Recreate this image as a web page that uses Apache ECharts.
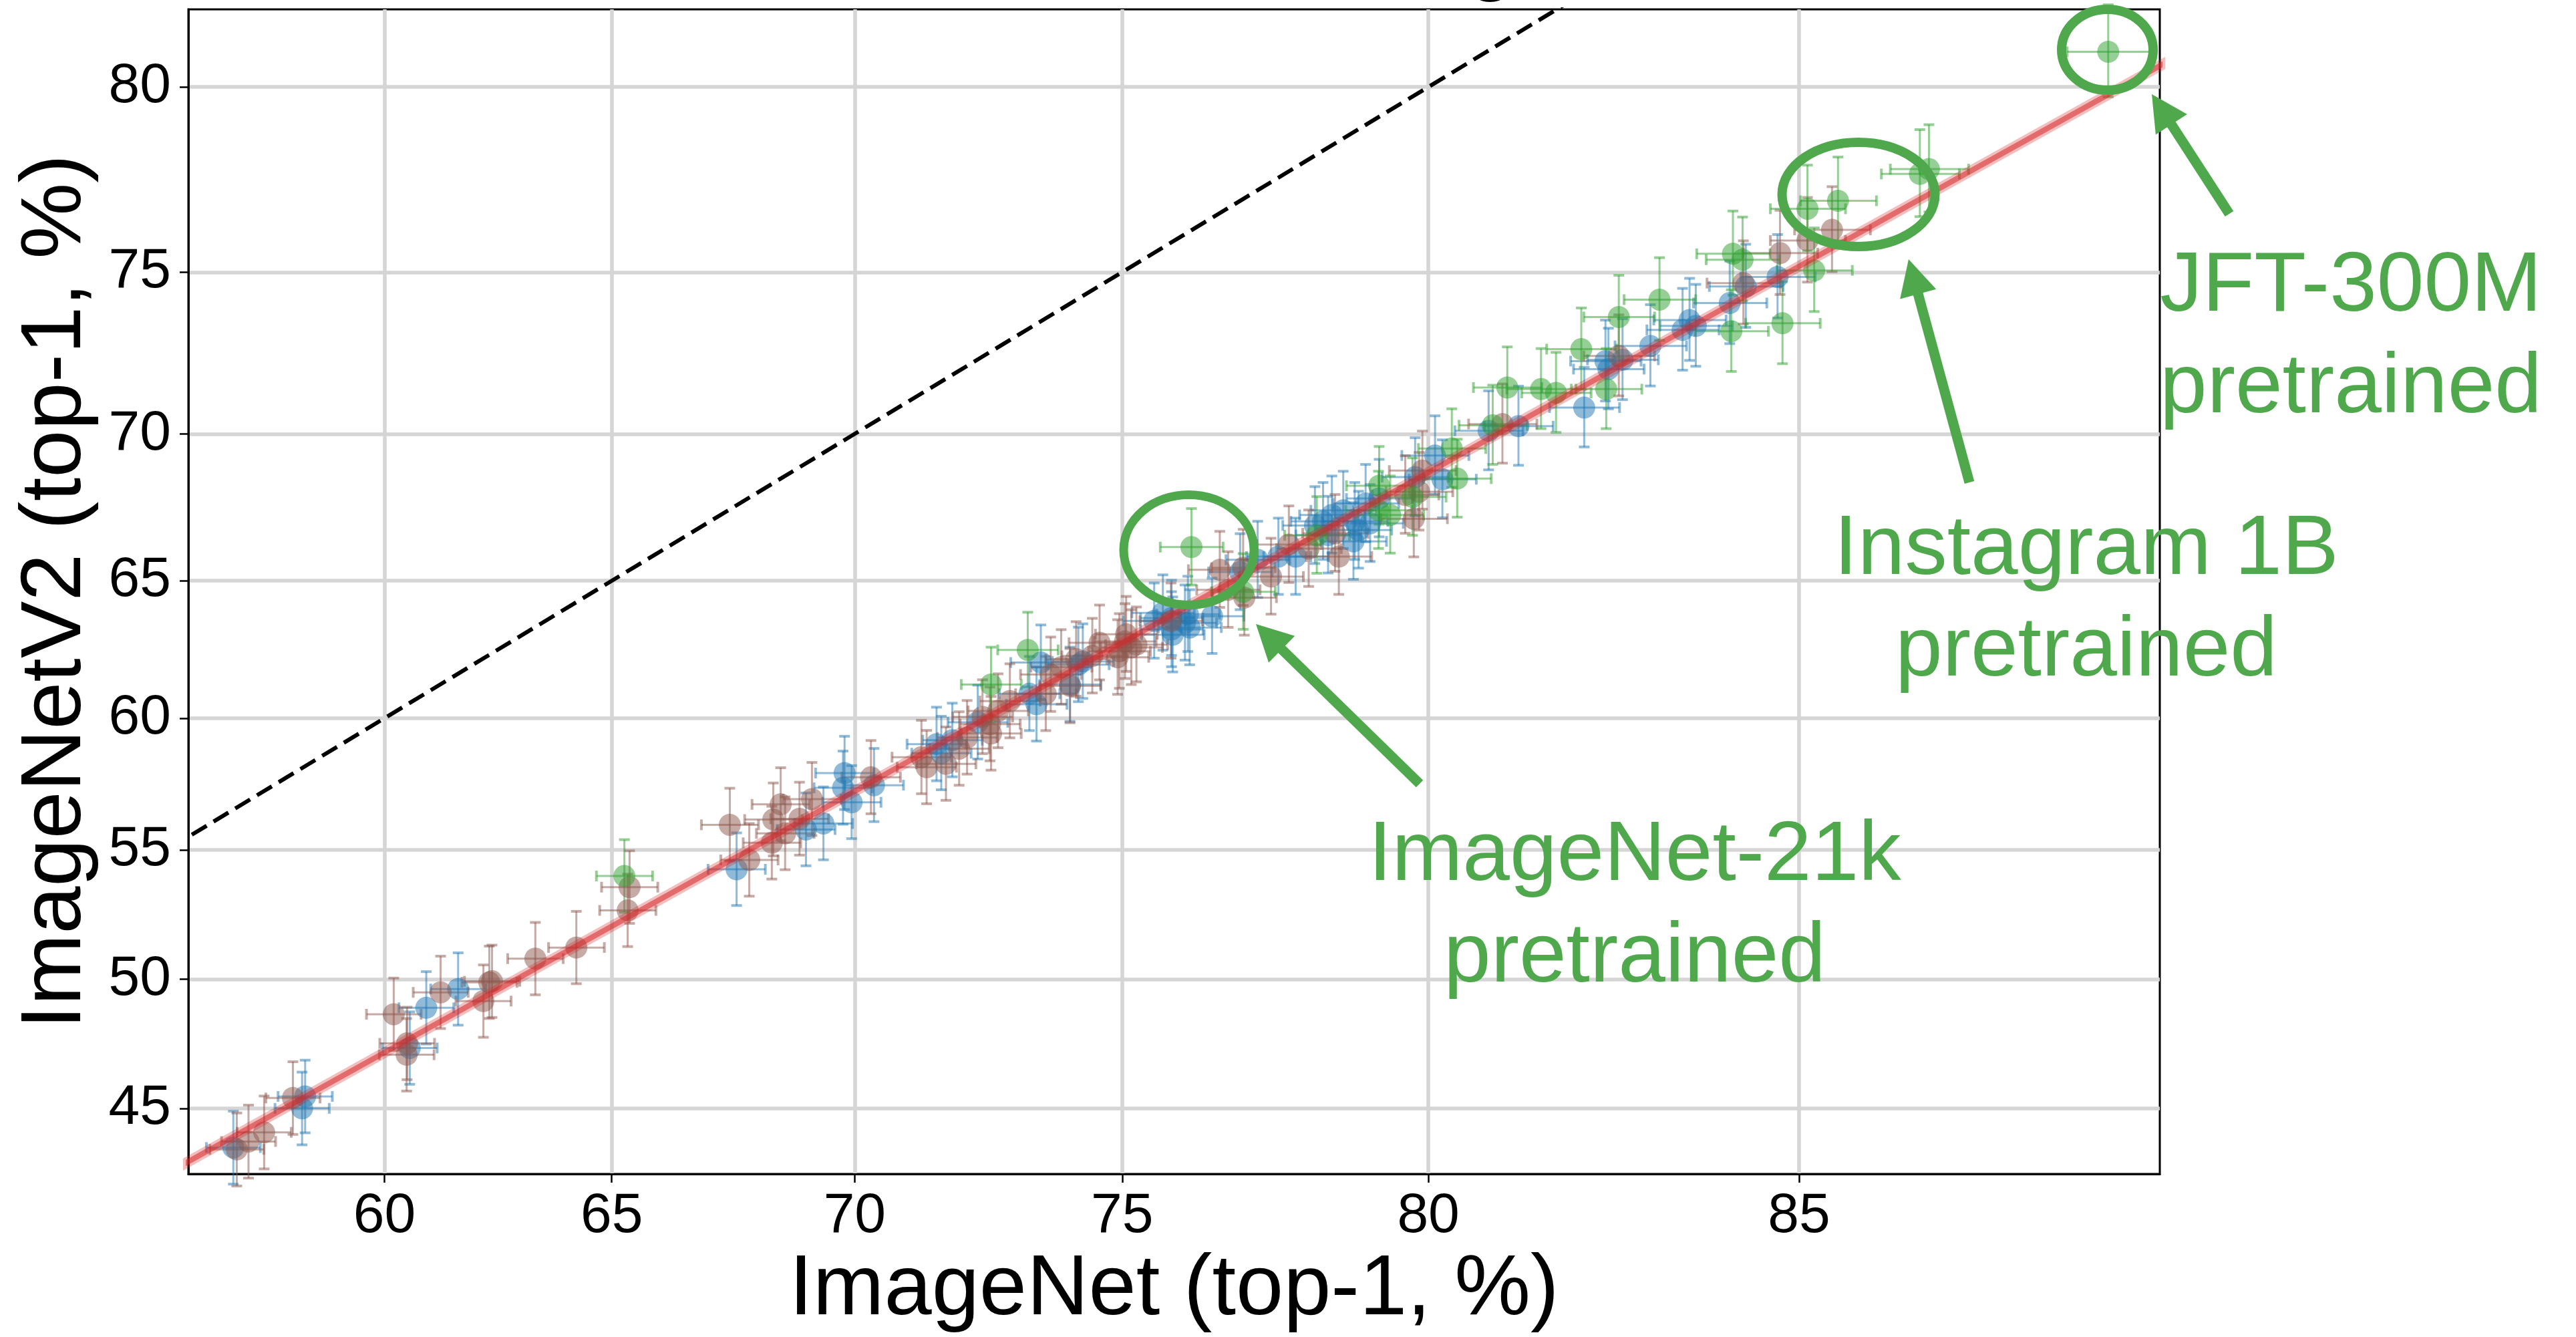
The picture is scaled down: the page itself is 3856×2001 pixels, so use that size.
<!DOCTYPE html>
<html>
<head>
<meta charset="utf-8">
<script src="https://cdn.jsdelivr.net/npm/echarts/dist/echarts.min.js"></script>
<style>
html,body{margin:0;padding:0;background:#fff;}
#chart{width:3856px;height:2001px;}
</style>
</head>
<body>
<div id="chart"></div>
<script>
// ---------- data (percent top-1 accuracy) ----------
const X_TICKS = [60, 65, 70, 75, 80, 85];
const Y_TICKS = [45, 50, 55, 60, 65, 70, 75, 80];
const X_RANGE = [55.51, 88.83];
const Y_RANGE = [42.49, 81.86];

// [ImageNet, ImageNetV2]
const blue = [[56.55,43.5],[58.2,45.46],[58.13,45.0],[60.94,48.89],[61.65,49.62],[60.57,47.33],[67.62,54.26],[69.03,55.79],[69.38,56.02],[69.8,57.94],[69.77,57.38],[69.94,56.83],[70.38,57.48],[71.59,59.03],[71.68,58.69],[71.89,59.18],[72.37,59.85],[73.33,60.91],[73.46,60.52],[73.54,62.06],[74.07,61.25],[74.22,61.98],[74.3,62.1],[75.56,63.57],[75.71,63.86],[75.88,63.07],[75.86,63.67],[76.14,63.81],[76.17,63.33],[76.55,63.74],[75.86,63.26],[76.09,63.5],[77.02,65.31],[77.31,65.74],[77.65,65.85],[77.93,65.85],[78.24,66.93],[78.37,67.07],[78.51,67.29],[78.69,67.45],[78.87,67.07],[78.85,66.38],[78.93,66.77],[79.04,67.68],[79.11,67.0],[78.45,66.6],[79.25,67.85],[79.8,68.57],[80.1,69.29],[80.21,68.5],[80.89,70.1],[81.32,70.25],[82.24,70.85],[82.53,72.32],[82.57,72.07],[82.76,72.36],[83.13,72.79],[83.55,73.28],[83.64,73.58],[83.72,73.4],[84.15,74.09],[84.35,74.58],[84.74,74.86]];
const brown = [[56.63,43.43],[56.9,43.73],[57.26,44.08],[57.92,45.4],[60.21,48.64],[61.26,49.49],[60.51,47.51],[60.5,47.07],[62.21,49.15],[62.4,49.92],[62.34,49.88],[63.35,50.8],[64.24,51.23],[65.38,53.57],[65.34,52.67],[67.88,54.62],[67.48,55.97],[68.34,55.28],[68.37,56.17],[68.52,56.75],[68.61,55.64],[68.9,56.2],[69.15,56.95],[70.32,57.78],[71.4,58.16],[71.3,58.54],[71.77,58.29],[72.02,58.86],[72.17,59.28],[72.6,59.78],[72.62,59.43],[72.46,60.05],[72.75,60.27],[72.97,60.64],[73.63,60.91],[73.72,61.62],[73.91,61.89],[74.18,62.18],[74.07,61.2],[74.47,62.3],[74.6,62.78],[74.95,62.47],[74.92,62.25],[75.07,63.09],[75.05,62.83],[75.16,62.61],[75.25,62.71],[75.85,63.57],[76.68,65.39],[76.82,64.68],[77.07,65.46],[77.09,64.4],[77.53,65.15],[77.82,66.27],[78.14,66.13],[78.56,66.66],[78.62,65.85],[79.65,67.97],[79.78,67.16],[79.91,68.79],[79.86,68.08],[81.09,70.32],[82.71,72.48],[84.32,74.68],[84.77,75.55],[85.1,75.91],[85.39,76.21]];
const green = [[65.27,54.0],[72.62,61.25],[73.3,62.52],[76.2,66.18],[77.07,64.61],[78.27,66.59],[79.25,68.28],[79.24,67.45],[79.42,67.29],[79.76,67.9],[80.35,69.52],[80.43,68.52],[80.95,70.28],[81.16,71.49],[81.64,71.44],[81.85,71.32],[82.2,72.69],[82.54,71.44],[82.71,73.67],[83.25,74.19],[84.17,73.24],[84.19,75.53],[84.31,75.36],[84.8,73.48],[85.1,76.8],[85.18,75.05],[85.46,77.02],[86.39,77.75],[86.49,77.88],[88.34,80.86]];

// reference lines
const diagX = [50, 90], diagY = [50, 90];          // y = x
const fitX = [55.0, 89.5], fitY = [42.5, 81.5];    // linear fit (logit space)

// sample sizes for binomial error bars
const N_X = 50000, N_Y = 10000, Z = 2.81;

// ---------- helpers ----------
const logit = p => Math.log(p / (100 - p));
const expit = v => 100 / (1 + Math.exp(-v));
const ci = (p, n) => { const s = Z * Math.sqrt(p * (100 - p) / n); return [p - s, p + s]; };

const errData = pts => pts.map(([x, y]) => {
  const [x0, x1] = ci(x, N_X), [y0, y1] = ci(y, N_Y);
  return [logit(x), logit(y), logit(x0), logit(x1), logit(y0), logit(y1)];
});
const ptData = pts => pts.map(([x, y]) => [logit(x), logit(y)]);

function errRender(color) {
  return function (params, api) {
    const x = api.value(0), y = api.value(1);
    const c = api.coord([x, y]);
    const a = api.coord([api.value(2), y]), b = api.coord([api.value(3), y]);
    const d = api.coord([x, api.value(4)]), e = api.coord([x, api.value(5)]);
    const cap = 8, lw = 3, cw = 4;
    const st = w => ({ stroke: color, lineWidth: w, fill: null });
    return {
      type: 'group', children: [
        { type: 'line', shape: { x1: a[0], y1: c[1], x2: b[0], y2: c[1] }, style: st(lw) },
        { type: 'line', shape: { x1: c[0], y1: d[1], x2: c[0], y2: e[1] }, style: st(lw) },
        { type: 'line', shape: { x1: a[0], y1: c[1] - cap, x2: a[0], y2: c[1] + cap }, style: st(cw) },
        { type: 'line', shape: { x1: b[0], y1: c[1] - cap, x2: b[0], y2: c[1] + cap }, style: st(cw) },
        { type: 'line', shape: { x1: c[0] - cap, y1: d[1], x2: c[0] + cap, y2: d[1] }, style: st(cw) },
        { type: 'line', shape: { x1: c[0] - cap, y1: e[1], x2: c[0] + cap, y2: e[1] }, style: st(cw) }
      ]
    };
  };
}

const groups = [
  { pts: blue, color: '#1f77b4', rgba: 'rgba(31,119,180,0.5)' },
  { pts: brown, color: '#8c564b', rgba: 'rgba(140,86,75,0.5)' },
  { pts: green, color: '#2ca02c', rgba: 'rgba(44,160,44,0.5)' }
];

const series = [
  { type: 'line', data: diagX.map((v, i) => [logit(v), logit(diagY[i])]), symbol: 'none', silent: true, clip: true,
    lineStyle: { color: '#000', width: 6, type: [26, 12] } },
  { type: 'line', data: fitX.map((v, i) => [logit(v), logit(fitY[i])]), symbol: 'none', silent: true, clip: true,
    lineStyle: { color: 'rgba(214,39,40,0.3)', width: 16 } },
  { type: 'line', data: fitX.map((v, i) => [logit(v), logit(fitY[i])]), symbol: 'none', silent: true, clip: true,
    lineStyle: { color: 'rgba(214,39,40,0.55)', width: 8 } }
];
groups.forEach(g => {
  series.push({ type: 'custom', renderItem: errRender(g.rgba), data: errData(g.pts), silent: true });
  series.push({ type: 'scatter', data: ptData(g.pts), symbol: 'circle', symbolSize: 33, silent: true,
    itemStyle: { color: g.color, opacity: 0.5, borderWidth: 0 } });
});

// ---------- annotations ----------
const G = '#4fa84b';
const AF = 'Liberation Sans';
function arrow(tail, tip) {
  const dx = tip[0] - tail[0], dy = tip[1] - tail[1], L = Math.hypot(dx, dy), ux = dx / L, uy = dy / L;
  const hl = 54, hw = 28;
  const bx = tip[0] - ux * hl, by = tip[1] - uy * hl;
  return [
    { type: 'line', shape: { x1: tail[0], y1: tail[1], x2: bx + ux * 6, y2: by + uy * 6 }, style: { stroke: G, lineWidth: 15 }, z: 100 },
    { type: 'polygon', shape: { points: [tip, [bx - uy * hw, by + ux * hw], [bx + uy * hw, by - ux * hw]] }, style: { fill: G }, z: 100 }
  ];
}
function label(txt, x, y) {
  return { type: 'text', x: x, y: y, z: 100,
    style: { text: txt, fill: G, font: '127px "' + AF + '"', fontSize: 127, fontFamily: AF,
      textAlign: 'center', textVerticalAlign: 'middle', align: 'center', verticalAlign: 'middle' } };
}
function ring(cx, cy, rx, ry, w) {
  return { type: 'ellipse', shape: { cx: cx, cy: cy, rx: rx, ry: ry }, style: { fill: null, stroke: G, lineWidth: w }, z: 100 };
}
const graphic = [
  ring(3154.5, 74.5, 68.5, 60.5, 14),
  ring(2782, 291, 114.5, 78, 14),
  ring(1779.5, 823, 97.5, 82.5, 13),
  ...arrow([3337, 320], [3221, 141]),
  ...arrow([2948, 722], [2857, 388]),
  ...arrow([2125, 1173], [1880, 934]),
  label('JFT-300M', 3519, 430),
  label('pretrained', 3519, 582),
  label('Instagram 1B', 3123, 824),
  label('pretrained', 3123, 976),
  label('ImageNet-21k', 2447, 1282),
  label('pretrained', 2447, 1434),
  { type: 'text', x: 2232, y: -59, z: 100,
    style: { text: 'g', fill: '#000', font: '128px "' + AF + '"', fontSize: 128, fontFamily: AF,
      textAlign: 'center', textVerticalAlign: 'middle', align: 'center', verticalAlign: 'middle' } }
];

const FONT = 'Liberation Sans';
const option = {
  animation: false,
  backgroundColor: '#fff',
  grid: { left: 282, right: 623, top: 14, bottom: 229, show: true, borderColor: '#000', borderWidth: 3, backgroundColor: 'transparent' },
  xAxis: {
    type: 'value', min: logit(X_RANGE[0]), max: logit(X_RANGE[1]),
    axisLine: { show: true, onZero: false, lineStyle: { color: '#000', width: 3 } },
    axisTick: { show: true, customValues: X_TICKS.map(logit), length: 13, lineStyle: { color: '#000', width: 2.5 } },
    axisLabel: { customValues: X_TICKS.map(logit), formatter: v => String(Math.round(expit(v))),
      fontSize: 84, fontFamily: FONT, color: '#000', margin: 22 },
    splitLine: { show: true, lineStyle: { color: '#d5d5d5', width: 5.5 } },
    name: 'ImageNet (top-1, %)', nameLocation: 'middle', nameGap: 92,
    nameTextStyle: { fontSize: 128, fontFamily: FONT, color: '#000' }
  },
  yAxis: {
    type: 'value', min: logit(Y_RANGE[0]), max: logit(Y_RANGE[1]),
    axisLine: { show: true, onZero: false, lineStyle: { color: '#000', width: 3 } },
    axisTick: { show: true, customValues: Y_TICKS.map(logit), length: 13, lineStyle: { color: '#000', width: 2.5 } },
    axisLabel: { customValues: Y_TICKS.map(logit), formatter: v => String(Math.round(expit(v))),
      fontSize: 84, fontFamily: FONT, color: '#000', margin: 26 },
    splitLine: { show: true, lineStyle: { color: '#d5d5d5', width: 5.5 } },
    name: 'ImageNetV2 (top-1, %)', nameLocation: 'middle', nameGap: 133,
    nameTextStyle: { fontSize: 128, fontFamily: FONT, color: '#000' }
  },
  series: series,
  graphic: graphic
};
const chart = echarts.init(document.getElementById('chart'), null, { renderer: 'canvas' });
chart.setOption(option);
</script>
</body>
</html>
